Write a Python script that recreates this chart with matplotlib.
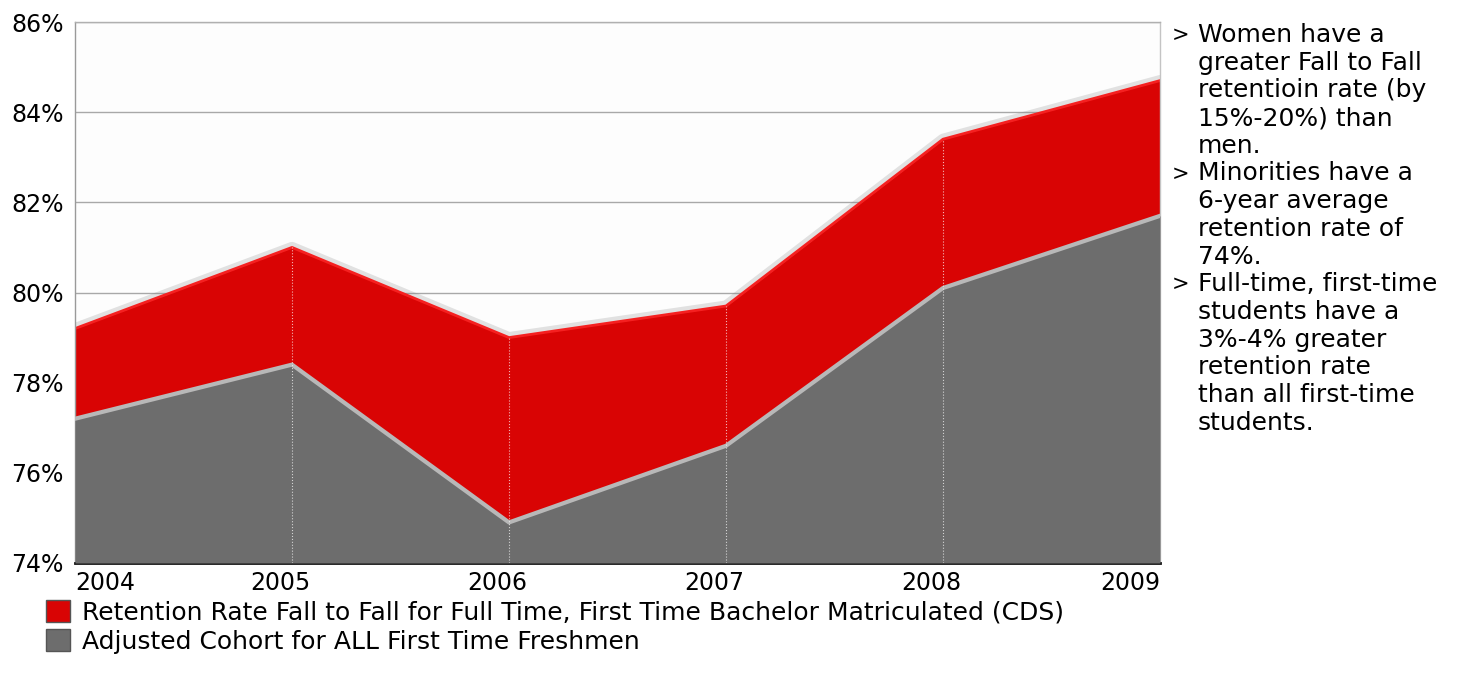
import matplotlib
matplotlib.use("Agg")
import matplotlib.pyplot as plt
import matplotlib.transforms as mtransforms
from matplotlib.patches import Patch

# data
years = [2004, 2005, 2006, 2007, 2008, 2009]
cds_rate = [79.2, 81.0, 79.0, 79.7, 83.4, 84.7]
cohort_rate = [77.2, 78.4, 74.9, 76.6, 80.1, 81.7]
y_ticks = [74, 76, 78, 80, 82, 84, 86]

legend_labels = [
    "Retention Rate Fall to Fall for Full Time, First Time Bachelor Matriculated (CDS)",
    "Adjusted Cohort for ALL First Time Freshmen",
]
notes = [
    ["Women have a", "greater Fall to Fall", "retentioin rate (by", "15%-20%) than", "men."],
    ["Minorities have a", "6-year average", "retention rate of", "74%."],
    ["Full-time, first-time", "students have a", "3%-4% greater", "retention rate",
     "than all first-time", "students."],
]

RED = "#d90404"
GRAY = "#6d6d6d"

W, H = 1472, 698
fig = plt.figure(figsize=(W / 100, H / 100), dpi=100)
ax = fig.add_axes([75 / W, 1 - 563 / H, (1160 - 75) / W, (563 - 22) / H])
ax.set_facecolor("#fdfdfd")

# soft shadow above the red band
ax.plot(years, cds_rate, color="#808080", lw=8, alpha=0.22, zorder=1.5,
        solid_joinstyle="round")
ax.fill_between(years, 74, cds_rate, color=RED, lw=0, zorder=2)
ax.plot(years, cds_rate, color="#f52020", lw=2, zorder=2.5)
ax.fill_between(years, 74, cohort_rate, color=GRAY, lw=0, zorder=3)
ax.plot(years, cohort_rate, color="#b8b8b8", lw=3, zorder=3.5)
ax.vlines(years[1:-1], 74, cds_rate[1:-1], colors="white", lw=0.8,
          linestyles=":", alpha=0.7, zorder=4)

ax.set_xlim(years[0], years[-1])
ax.set_ylim(y_ticks[0], y_ticks[-1])
ax.set_yticks(y_ticks)
ax.set_yticklabels([f"{v}%" for v in y_ticks])
ax.set_xticks(years)
ax.set_xticklabels([str(y) for y in years])
ax.yaxis.grid(True, color="#a8a8a8", lw=1)
ax.set_axisbelow(True)
ax.tick_params(length=0, labelsize=17, colors="black")
ax.tick_params(axis="y", pad=8)
ax.tick_params(axis="x", pad=6)

for side, col, lw in [("top", "#b0b0b0", 1), ("right", "#c4c4c4", 1),
                      ("left", "#9a9a9a", 1), ("bottom", "#111111", 2)]:
    ax.spines[side].set_color(col)
    ax.spines[side].set_linewidth(lw)

xlabels = ax.get_xticklabels()
xlabels[0].set_ha("left")
xlabels[-1].set_ha("right")
shift = mtransforms.ScaledTranslation(-12 / 100, 0, fig.dpi_scale_trans)
for lab in xlabels[1:-1]:
    lab.set_transform(lab.get_transform() + shift)

# side notes
row = 0
for item in notes:
    for i, line in enumerate(item):
        y = 1 - (35 + row * 27.7) / H
        if i == 0:
            fig.text(1172 / W, y, ">", fontsize=15, va="center", ha="left")
        fig.text(1198 / W, y, line, fontsize=18, va="center", ha="left")
        row += 1

handles = [Patch(facecolor=RED, edgecolor="#555555", lw=1),
           Patch(facecolor=GRAY, edgecolor="#555555", lw=1)]
fig.legend(handles, legend_labels, loc="upper left",
           bbox_to_anchor=(46 / W, 1 - 600 / H), frameon=False, fontsize=18,
           handlelength=0.95, handleheight=0.95, handletextpad=0.5,
           labelspacing=0.2, borderaxespad=0, borderpad=0)

fig.savefig("out.png", dpi=100)
